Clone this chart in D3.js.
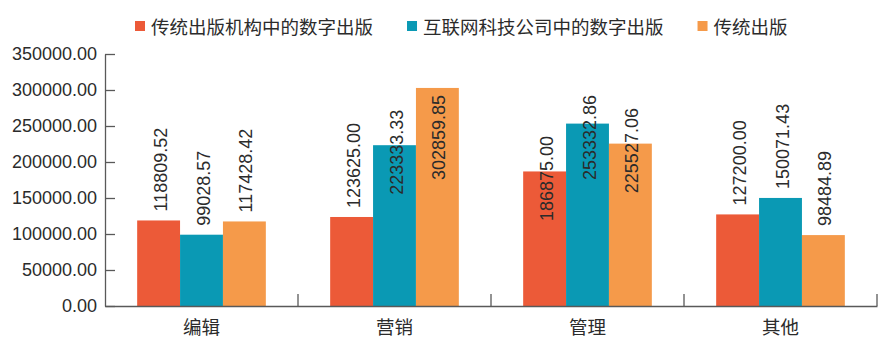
<!DOCTYPE html>
<html><head><meta charset="utf-8">
<script src="https://cdn.jsdelivr.net/npm/d3@7/dist/d3.min.js"></script>
<style>
body{margin:0;background:#fff;}
svg{display:block;}
.num{font-family:"Liberation Sans",Arial,sans-serif;}
.cjk{font-family:"Noto Sans CJK SC","Noto Sans",sans-serif;}
</style></head>
<body>
<svg id="chart" width="892" height="345"></svg>
<script>
const categories = ["编辑", "营销", "管理", "其他"];
const seriesNames = ["传统出版机构中的数字出版", "互联网科技公司中的数字出版", "传统出版"];
const seriesColors = ["#EC5A38", "#0A99B4", "#F59A4A"];
const traditionalDigital = [118809.52, 123625.00, 186875.00, 127200.00];
const internetDigital = [99028.57, 223333.33, 253332.86, 150071.43];
const traditional = [117428.42, 302859.85, 225527.06, 98484.89];
const yTicks = [0, 50000, 100000, 150000, 200000, 250000, 300000, 350000];

const seriesValues = [traditionalDigital, internetDigital, traditional];

const svg = d3.select("#chart");
const W = 892, H = 345;
const m = {left: 105, right: 15, top: 54, bottom: 39};
const x0 = d3.scaleBand().domain(categories).range([m.left, W - m.right]).padding(0);
const x1 = d3.scaleBand().domain(d3.range(seriesNames.length)).range([0, x0.bandwidth()]).paddingInner(0).paddingOuter(0.75);
const y = d3.scaleLinear().domain([0, 350000]).range([H - m.bottom, m.top]);
const axisColor = "#595959";
const textColor = "#2b2b2b";

// bars
const data = [];
categories.forEach((c, ci) => {
  seriesValues.forEach((arr, si) => data.push({c, si, v: arr[ci]}));
});
svg.append("g").selectAll("rect").data(data).join("rect")
  .attr("x", d => x0(d.c) + x1(d.si))
  .attr("width", x1.bandwidth())
  .attr("y", d => y(d.v))
  .attr("height", d => y(0) - y(d.v))
  .attr("fill", d => seriesColors[d.si]);

// y axis
const yAxis = d3.axisLeft(y).tickValues(yTicks).tickFormat(d3.format(".2f")).tickSizeInner(-10).tickSizeOuter(0).tickPadding(8);
const gy = svg.append("g").attr("transform", `translate(${m.left},0)`).call(yAxis);
gy.select(".domain").attr("stroke", axisColor).attr("stroke-width", 1.3);
gy.selectAll(".tick line").attr("stroke", axisColor).attr("stroke-width", 1.3);
gy.selectAll(".tick text").attr("class", "num").attr("font-size", 18).attr("fill", textColor).attr("x", -8);

// x axis
const xAxis = d3.axisBottom(x0).tickSize(0).tickPadding(12);
const gx = svg.append("g").attr("transform", `translate(0,${y(0)})`).call(xAxis);
gx.select(".domain").attr("stroke", axisColor).attr("stroke-width", 1.3);
gx.selectAll(".tick text").attr("class", "cjk").attr("font-size", 18.5).attr("fill", textColor).attr("dy", "0.85em");
// boundary ticks
const bounds = categories.slice(1).map(c => x0(c)).concat([x0.range()[1]]);
svg.append("g").selectAll("line").data(bounds).join("line")
  .attr("x1", d => d).attr("x2", d => d)
  .attr("y1", y(0)).attr("y2", y(0) - 12)
  .attr("stroke", axisColor).attr("stroke-width", 1.3);

// labels
const fmt = d3.format(".2f");
const gap = 9, minEnd = 95;
const lbl = svg.append("g").selectAll("text").data(data).join("text")
  .attr("class", "num").attr("font-size", 18).attr("fill", textColor)
  .attr("dominant-baseline", "central")
  .text(d => fmt(d.v));
lbl.each(function(d) {
  const len = this.getComputedTextLength();
  const cx = x0(d.c) + x1(d.si) + x1.bandwidth() / 2 + 2;
  const top = y(d.v);
  let start = top - gap;
  if (start - len < minEnd) {
    let center = top + 7;
    if (center - len / 2 < minEnd) center = minEnd + len / 2;
    start = center + len / 2;
  }
  d3.select(this).attr("text-anchor", "start")
    .attr("transform", `translate(${cx},${start}) rotate(-90)`);
});

// legend
const leg = svg.append("g");
let lx = 135;
seriesNames.forEach((n, i) => {
  leg.append("rect").attr("x", lx).attr("y", 21).attr("width", 10).attr("height", 10).attr("fill", seriesColors[i]);
  const t = leg.append("text").attr("class", "cjk").attr("x", lx + 16).attr("y", 26)
    .attr("dominant-baseline", "central").attr("font-size", 18.5).attr("fill", textColor).text(n);
  lx += 16 + t.node().getComputedTextLength() + 34;
});
</script>
</body></html>
